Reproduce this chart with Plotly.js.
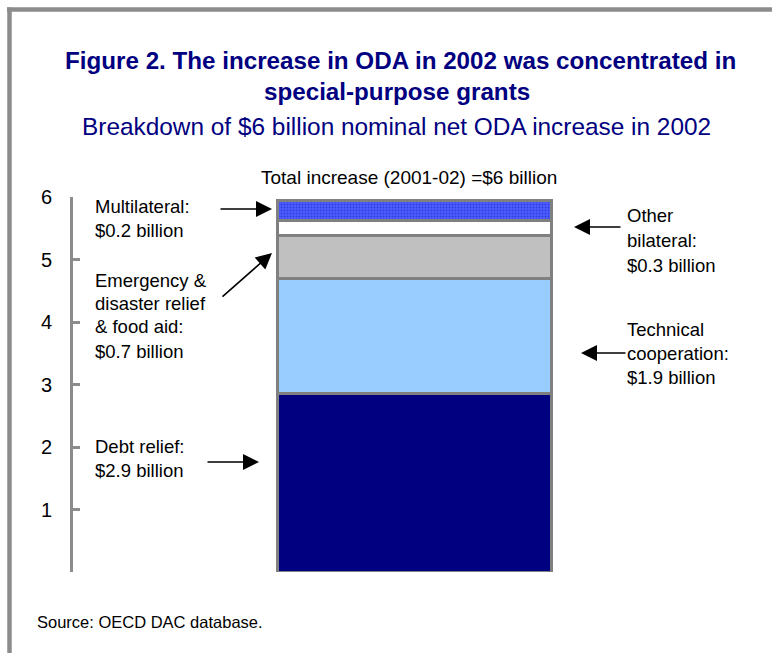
<!DOCTYPE html>
<html>
<head>
<meta charset="utf-8">
<script src="https://cdn.plot.ly/plotly-3.0.1.min.js"></script>
<style>
  html, body { margin: 0; padding: 0; background: #ffffff; }
  #chart { width: 772px; height: 653px; }
</style>
</head>
<body>
<div id="chart"></div>
<script>
// ---- data ----
const category = ['Total increase'];
const seriesNames = ['Debt relief', 'Technical cooperation', 'Emergency & disaster relief & food aid', 'Other bilateral', 'Multilateral'];
const debtRelief = [2.86];
const technicalCooperation = [1.84];
const emergencyRelief = [0.68];
const otherBilateral = [0.24];
const multilateral = [0.33];
const yTickValues = [0, 1, 2, 3, 4, 5, 6];
const yTickLabels = ['', '1', '2', '3', '4', '5', '6'];

// ---- layout helpers (pixel -> paper) ----
const L = 73, R = 756, T = 197, B = 572;
const W = 772, H = 653;
const px = v => (v - L) / (R - L);
const py = v => (B - v) / (B - T);

const navy = '#000080';
const FAM = 'Liberation Sans, Arial, sans-serif';
const outline = { color: '#808080', width: 3 };
const barWidth = 0.4026;

function bar(name, vals, color, extra) {
  const m = Object.assign({ color: color, line: outline }, extra || {});
  return { type: 'bar', x: category, y: vals, name: name, width: barWidth, marker: m, hoverinfo: 'skip' };
}

const data = [
  bar(seriesNames[0], debtRelief, '#000080'),
  bar(seriesNames[1], technicalCooperation, '#99CCFF'),
  bar(seriesNames[2], emergencyRelief, '#C0C0C0'),
  bar(seriesNames[3], otherBilateral, '#FFFFFF'),
  bar(seriesNames[4], multilateral, '#4858FF', { pattern: { shape: '.', fgcolor: '#2F3FDD', bgcolor: '#4D5DFF', size: 3, solidity: 0.3 } })
];

const txtFont = { family: FAM, size: 18.5, color: '#000000' };

function label(text, x, y, anchor) {
  return { text: text, xref: 'paper', yref: 'paper', x: px(x), y: py(y), xanchor: anchor || 'left', yanchor: 'middle', showarrow: false, font: txtFont };
}
function arrow(tailX, tailY, tipX, tipY) {
  return { text: '', xref: 'paper', yref: 'paper', x: px(tipX), y: py(tipY), ax: tailX - tipX, ay: tailY - tipY, axref: 'pixel', ayref: 'pixel',
           showarrow: true, arrowhead: 2, arrowsize: 2, arrowwidth: 1.6, arrowcolor: '#000000' };
}

const annotations = [
  { text: '<b>Figure 2. The increase in ODA in 2002 was concentrated in</b>', xref: 'paper', yref: 'paper', x: px(400), y: py(60), xanchor: 'center', yanchor: 'middle', showarrow: false,
    font: { family: FAM, size: 24.2, color: navy } },
  { text: '<b>special-purpose grants</b>', xref: 'paper', yref: 'paper', x: px(397), y: py(92), xanchor: 'center', yanchor: 'middle', showarrow: false,
    font: { family: FAM, size: 24.2, color: navy } },
  { text: 'Breakdown of $6 billion nominal net ODA increase in 2002', xref: 'paper', yref: 'paper', x: px(396), y: py(127), xanchor: 'center', yanchor: 'middle', showarrow: false,
    font: { family: FAM, size: 24.4, color: navy } },
  { text: 'Total increase (2001-02) =$6 billion', xref: 'paper', yref: 'paper', x: px(409), y: py(177), xanchor: 'center', yanchor: 'middle', showarrow: false,
    font: { family: FAM, size: 19, color: '#000000' } },

  label('Multilateral:', 93, 207),
  label('$0.2 billion', 93, 230),
  label('Emergency &amp;', 93, 280),
  label('disaster relief', 93, 303),
  label('&amp; food aid:', 93, 326),
  label('$0.7 billion', 93, 351),
  label('Debt relief:', 93, 446),
  label('$2.9 billion', 93, 470),
  label('Other', 625, 215),
  label('bilateral:', 625, 240),
  label('$0.3 billion', 625, 265),
  label('Technical', 625, 329),
  label('cooperation:', 625, 353),
  label('$1.9 billion', 625, 377),

  arrow(219, 209, 272, 209),
  arrow(221, 298, 272, 253),
  arrow(206, 462, 259, 462),
  arrow(622, 227, 574, 227),
  arrow(627, 353, 581, 353),

  { text: 'Source: OECD DAC database.', xref: 'paper', yref: 'paper', x: px(35), y: py(622), xanchor: 'left', yanchor: 'middle', showarrow: false,
    font: { family: FAM, size: 16.5, color: '#000000' } }
];

const frame = { color: '#8C8C8C', width: 4.5 };
const shapes = [
  { type: 'line', xref: 'paper', yref: 'paper', x0: px(7), x1: px(772), y0: py(9.5), y1: py(9.5), line: frame },
  { type: 'line', xref: 'paper', yref: 'paper', x0: px(9.5), x1: px(9.5), y0: py(7.5), y1: py(653), line: frame }
];

const layout = {
  width: W, height: H,
  margin: { l: L, r: W - R, t: T, b: H - B, pad: 0 },
  paper_bgcolor: '#ffffff', plot_bgcolor: '#ffffff',
  barmode: 'stack', bargap: 0,
  showlegend: false,
  xaxis: { type: 'category', range: [-0.5, 0.5], visible: false, fixedrange: true },
  yaxis: { range: [0, 6], tickvals: yTickValues, ticktext: yTickLabels, ticks: 'inside', ticklen: 7, tickwidth: 3, tickcolor: '#8C8C8C',
           showline: true, linecolor: '#8C8C8C', linewidth: 3, showgrid: false, zeroline: false, ticklabelstandoff: 14,
           tickfont: { family: FAM, size: 20, color: '#000000' }, fixedrange: true },
  annotations: annotations,
  shapes: shapes,
  font: { family: FAM }
};

Plotly.newPlot('chart', data, layout, { displayModeBar: false, staticPlot: true });
</script>
</body>
</html>
